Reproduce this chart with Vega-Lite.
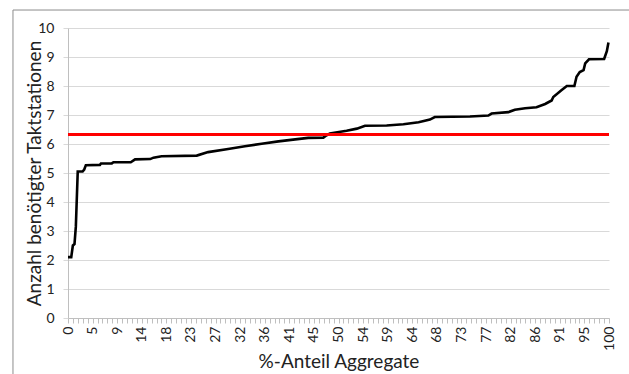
{
  "$schema": "https://vega.github.io/schema/vega-lite/v6.json",
  "autosize": {"type": "none"},
  "width": 541,
  "height": 290,
  "padding": {"left": 68, "top": 28, "right": 20, "bottom": 56},
  "background": "white",
  "config": {
    "view": {"stroke": null},
    "font": "Lato",
    "axis": {"labelFont": "Lato", "titleFont": "Lato", "labelColor": "#222", "titleColor": "#222", "titleFontWeight": "normal", "labelOverlap": false}
  },
  "datasets": {
    "curve": [
      {"pct": 0, "val": 2.1}, {"pct": 0.6, "val": 2.1}, {"pct": 0.9, "val": 2.5}, {"pct": 1.2, "val": 2.55},
      {"pct": 1.45, "val": 3.15}, {"pct": 1.8, "val": 5.05}, {"pct": 2.7, "val": 5.05}, {"pct": 3.0, "val": 5.12},
      {"pct": 3.3, "val": 5.27}, {"pct": 5.9, "val": 5.28}, {"pct": 6.1, "val": 5.33}, {"pct": 8.1, "val": 5.33},
      {"pct": 8.4, "val": 5.37}, {"pct": 11.6, "val": 5.37}, {"pct": 12.4, "val": 5.47}, {"pct": 15.2, "val": 5.48},
      {"pct": 15.8, "val": 5.53}, {"pct": 17.3, "val": 5.58}, {"pct": 23.8, "val": 5.6}, {"pct": 25.9, "val": 5.72},
      {"pct": 29.6, "val": 5.83}, {"pct": 32.7, "val": 5.92}, {"pct": 35.8, "val": 6.01}, {"pct": 38.9, "val": 6.09},
      {"pct": 42.0, "val": 6.16}, {"pct": 44.4, "val": 6.21}, {"pct": 47.2, "val": 6.22}, {"pct": 47.8, "val": 6.3},
      {"pct": 48.4, "val": 6.36}, {"pct": 51.5, "val": 6.46}, {"pct": 53.4, "val": 6.53}, {"pct": 54.9, "val": 6.63},
      {"pct": 58.9, "val": 6.64}, {"pct": 62.0, "val": 6.68}, {"pct": 64.8, "val": 6.75}, {"pct": 66.9, "val": 6.84},
      {"pct": 67.8, "val": 6.93}, {"pct": 74.3, "val": 6.95}, {"pct": 77.7, "val": 6.98}, {"pct": 78.3, "val": 7.05},
      {"pct": 81.4, "val": 7.1}, {"pct": 82.6, "val": 7.18}, {"pct": 84.5, "val": 7.23}, {"pct": 86.6, "val": 7.27},
      {"pct": 88.2, "val": 7.38}, {"pct": 89.4, "val": 7.5}, {"pct": 89.7, "val": 7.62}, {"pct": 91.2, "val": 7.85},
      {"pct": 92.2, "val": 8.0}, {"pct": 93.6, "val": 8.0}, {"pct": 94.0, "val": 8.32}, {"pct": 94.6, "val": 8.48},
      {"pct": 95.3, "val": 8.55}, {"pct": 95.6, "val": 8.78}, {"pct": 96.3, "val": 8.92}, {"pct": 99.1, "val": 8.93},
      {"pct": 99.6, "val": 9.2}, {"pct": 99.9, "val": 9.5}
    ],
    "avg": [{"pct": 0, "pct2": 100, "val": 6.33}],
    "frame": [{"pct": -10.17, "pct2": 106, "val": -2.3, "val2": 10.62}]
  },
  "encoding": {
    "x": {
      "field": "pct", "type": "quantitative",
      "scale": {"domain": [0, 100], "nice": false, "zero": false},
      "axis": {
        "title": "%-Anteil Aggregate",
        "titleFontSize": 19,
        "titlePadding": 2,
        "values": [0,0.909,1.818,2.727,3.636,4.545,5.455,6.364,7.273,8.182,9.091,10,10.909,11.818,12.727,13.636,14.545,15.455,16.364,17.273,18.182,19.091,20,20.909,21.818,22.727,23.636,24.545,25.455,26.364,27.273,28.182,29.091,30,30.909,31.818,32.727,33.636,34.545,35.455,36.364,37.273,38.182,39.091,40,40.909,41.818,42.727,43.636,44.545,45.455,46.364,47.273,48.182,49.091,50,50.909,51.818,52.727,53.636,54.545,55.455,56.364,57.273,58.182,59.091,60,60.909,61.818,62.727,63.636,64.545,65.455,66.364,67.273,68.182,69.091,70,70.909,71.818,72.727,73.636,74.545,75.455,76.364,77.273,78.182,79.091,80,80.909,81.818,82.727,83.636,84.545,85.455,86.364,87.273,88.182,89.091,90,90.909,91.818,92.727,93.636,94.545,95.455,96.364,97.273,98.182,99.091,100],
        "labelExpr": "round(datum.value*1.1) % 5 == 0 ? ['0','5','9','14','18','23','27','32','36','41','45','50','54','59','64','68','73','77','82','86','91','95','100'][round(datum.value*0.22)] : ''",
        "labelAngle": -90,
        "labelAlign": "right",
        "labelBaseline": "middle",
        "labelFontSize": 14,
        "labelPadding": 3,
        "labelOverlap": false,
        "labelFlush": false,
        "labelBound": false,
        "tickSize": 5,
        "tickColor": "#bfbfbf",
        "domainColor": "#bfbfbf",
        "grid": false
      }
    },
    "y": {
      "field": "val", "type": "quantitative",
      "scale": {"domain": [0, 10], "nice": false},
      "axis": {
        "title": "Anzahl benötigter Taktstationen",
        "titleFontSize": 19,
        "titleX": -34,
        "titleBaseline": "middle",
        "values": [0,1,2,3,4,5,6,7,8,9,10],
        "labelFontSize": 14,
        "labelPadding": 9,
        "labelOverlap": false,
        "tickSize": 5,
        "tickColor": "#d9d9d9",
        "domainColor": "#bfbfbf",
        "grid": true,
        "gridColor": "#d9d9d9",
        "gridWidth": 1.2
      }
    }
  },
  "layer": [
    {
      "data": {"name": "curve"},
      "mark": {"type": "line", "color": "black", "strokeWidth": 2.6, "strokeJoin": "miter"}
    },
    {
      "data": {"name": "avg"},
      "mark": {"type": "rule", "color": "#ff0000", "strokeWidth": 3},
      "encoding": {"x2": {"field": "pct2"}}
    },
    {
      "data": {"name": "frame"},
      "mark": {"type": "rect", "fill": null, "stroke": "#8c8c8c", "strokeWidth": 1, "clip": false},
      "encoding": {"x2": {"field": "pct2"}, "y2": {"field": "val2"}}
    }
  ]
}
